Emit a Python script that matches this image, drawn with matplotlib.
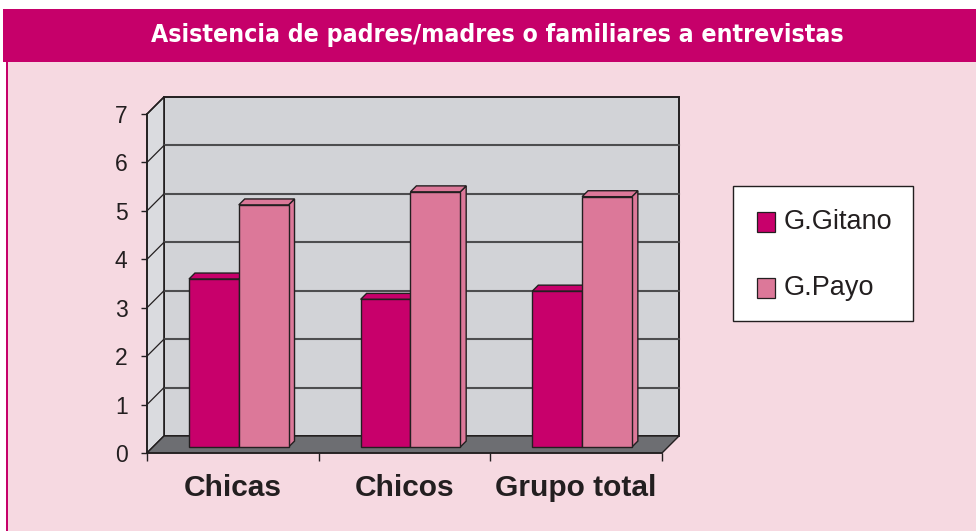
import matplotlib
matplotlib.use('Agg')
import matplotlib.pyplot as plt
from matplotlib.patches import Rectangle, Polygon
from matplotlib import font_manager as fm

# data
categories = ['Chicas', 'Chicos', 'Grupo total']
series = ['G.Gitano', 'G.Payo']
gitano = [3.47, 3.05, 3.22]
payo = [5.0, 5.27, 5.17]
yticks = [0, 1, 2, 3, 4, 5, 6, 7]
title = 'Asistencia de padres/madres o familiares a entrevistas'

c_gitano = '#C8006B'
c_payo = '#DC7899'
c_title = '#C6006A'
c_bg = '#F6D9E1'
c_back = '#D2D3D7'
c_left = '#DADBDF'
c_floor = '#6D6E72'
c_edge = '#231F20'
c_grid = '#4D4D4F'

W, H = 976, 531
fig = plt.figure(figsize=(W / 100, H / 100), dpi=100)
fig.patch.set_facecolor('white')

# page decoration
fig.patches.append(Rectangle((7 / W, 0), 1 - 7 / W, 1 - 62 / H, transform=fig.transFigure,
                             facecolor=c_bg, edgecolor='none', zorder=-5))
fig.patches.append(Rectangle((6 / W, 0), 1.6 / W, 1 - 62 / H, transform=fig.transFigure,
                             facecolor=c_title, edgecolor='none', zorder=-5))
fig.patches.append(Rectangle((3 / W, 1 - 62 / H), 1 - 3 / W, 53 / H, transform=fig.transFigure,
                             facecolor=c_title, edgecolor='none', zorder=-5))

# condensed font for the title if there is one
installed = {f.name for f in fm.fontManager.ttflist}
if 'Liberation Sans Narrow' in installed:
    tfam, stretch = 'Liberation Sans Narrow', 'normal'
else:
    cond = [f for f in fm.fontManager.ttflist if f.name == 'DejaVu Sans' and f.stretch == 'condensed']
    tfam, stretch = 'DejaVu Sans', ('condensed' if cond else 'normal')
t = fig.text(497 / W, 1 - 35 / H, title, color='white', fontsize=18, fontweight='bold',
             family=tfam, fontstretch=stretch, ha='center', va='center')
fig.canvas.draw()
wpx = t.get_window_extent().width
t.set_fontsize(18 * 691 / wpx)

# axes = front plane of the 3d box
ax = fig.add_axes([147 / W, 1 - 453 / H, (662 - 147) / W, (453 - 114) / H])
ax.set_facecolor('none')
n = len(categories)
ax.set_xlim(0, n)
ax.set_ylim(0, 7)
DX = 17 / ((662 - 147) / n)
DY = 17 / ((453 - 114) / 7)

def poly(pts, **kw):
    p = Polygon(pts, closed=True, clip_on=False, **kw)
    ax.add_patch(p)
    return p

# walls and floor
poly([(DX, DY), (n + DX, DY), (n + DX, 7 + DY), (DX, 7 + DY)], facecolor=c_back,
     edgecolor=c_edge, lw=1.4, zorder=1)
poly([(0, 0), (0, 7), (DX, 7 + DY), (DX, DY)], facecolor=c_left, edgecolor=c_edge, lw=1.2, zorder=1)
for k in yticks[1:-1]:
    ax.plot([DX, n + DX], [k + DY, k + DY], color=c_grid, lw=1.5, zorder=2, clip_on=False)
for k in yticks[1:]:
    ax.plot([0, DX], [k, k + DY], color=c_edge, lw=0.9, zorder=2, clip_on=False)
poly([(0, 0), (n, 0), (n + DX, DY), (DX, DY)], facecolor=c_floor, edgecolor=c_edge, lw=1.0, zorder=2)

# bars
bw = 0.29
f1, f2 = 0.35, 0.70
ox, oy = f1 * DX, f1 * DY
sx, sy = (f2 - f1) * DX, (f2 - f1) * DY
for vals, col, side in [(gitano, c_gitano, -1), (payo, c_payo, 1)]:
    for i, v in enumerate(vals):
        xl = i + 0.5 + (bw if side > 0 else -bw) / 2 - bw / 2 + ox
        xr = xl + bw
        top = v + oy
        zo = 3 if side < 0 else 5
        poly([(xr, oy), (xr, top), (xr + sx, top + sy), (xr + sx, oy + sy)], facecolor=col,
             edgecolor=c_edge, lw=1.0, zorder=zo)
        poly([(xl, top), (xr, top), (xr + sx, top + sy), (xl + sx, top + sy)], facecolor=col,
             edgecolor=c_edge, lw=1.0, zorder=zo)
    ax.bar([i + 0.5 + side * bw / 2 + ox for i in range(n)], vals, bw, bottom=oy, color=col,
           edgecolor=c_edge, lw=1.0, zorder=(4 if side < 0 else 6), clip_on=False)

# axes styling
for s in ['top', 'right']:
    ax.spines[s].set_visible(False)
for s in ['left', 'bottom']:
    ax.spines[s].set_color(c_edge)
    ax.spines[s].set_linewidth(1.2)
    ax.spines[s].set_zorder(7)
ax.set_yticks(yticks)
ax.set_yticklabels([str(v) for v in yticks], fontsize=16.5, family='Liberation Sans', color=c_edge)
ax.tick_params(axis='y', direction='out', length=4, width=1, color=c_edge, pad=10)
ax.set_xticks(range(n + 1))
ax.set_xticklabels([])
ax.tick_params(axis='x', which='major', direction='out', length=6, width=1, color=c_edge)
ax.set_xticks([i + 0.5 for i in range(n)], minor=True)
ax.set_xticklabels(categories, minor=True, fontsize=21.5, fontweight='bold',
                   family='Liberation Sans', color=c_edge)
ax.tick_params(axis='x', which='minor', length=0, pad=15)

# legend box
fig.patches.append(Rectangle((733 / W, 1 - 321 / H), 180 / W, 135 / H, transform=fig.transFigure,
                             facecolor='white', edgecolor=c_edge, lw=1.0, zorder=1))
for name, col, yc in [(series[0], c_gitano, 222), (series[1], c_payo, 288)]:
    fig.patches.append(Rectangle((757 / W, 1 - (yc + 10) / H), 18 / W, 20 / H,
                                 transform=fig.transFigure, facecolor=col, edgecolor=c_edge,
                                 lw=0.9, zorder=2))
    fig.text(784 / W, 1 - yc / H, name, fontsize=19.5, family='Liberation Sans', color=c_edge,
             ha='left', va='center')

fig.savefig('out.png', dpi=100)
